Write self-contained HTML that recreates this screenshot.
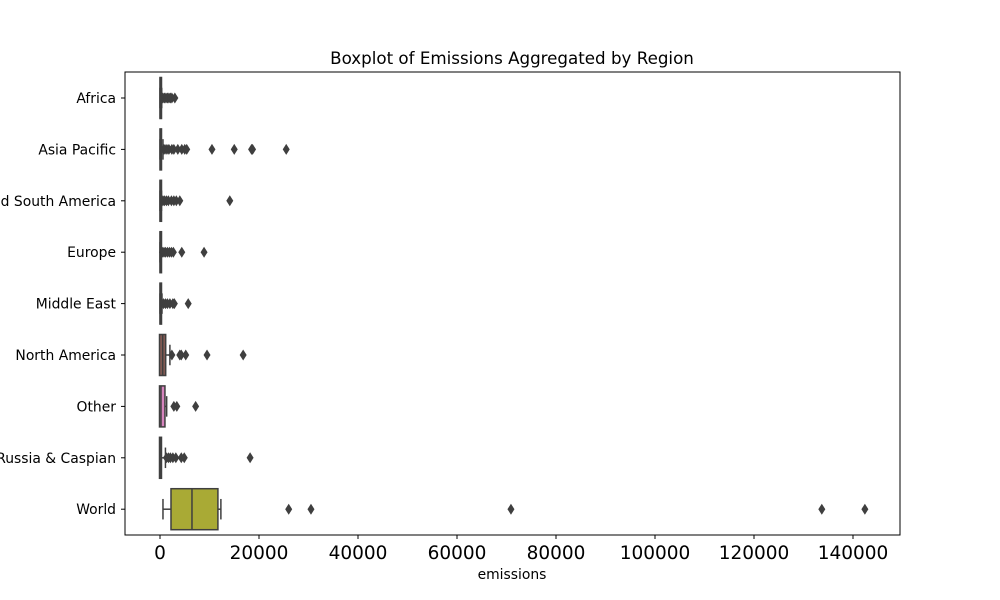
<!DOCTYPE html>
<html><head><meta charset="utf-8"><style>
html,body{margin:0;padding:0;background:#fff;width:1000px;height:600px;overflow:hidden}
svg{display:block;font-family:"DejaVu Sans","Liberation Sans",sans-serif}
</style></head><body>
<svg id="chart" width="1000" height="600" viewBox="0 0 1000 600">
<text x="512" y="64" text-anchor="middle" font-size="16.7" fill="#000">Boxplot of Emissions Aggregated by Region</text>
<g id="plot"></g>
<rect x="125" y="72" width="775" height="463" fill="none" stroke="#000" stroke-width="1"/>
<text x="512" y="579" text-anchor="middle" font-size="13.9" fill="#000">emissions</text>
</svg>
<script>
const categories=["Africa","Asia Pacific","Central and South America","Europe","Middle East","North America","Other","Russia & Caspian","World"];
const colors=["#3274a1","#e1812c","#3a923a","#c03d3e","#9372b2","#845b53","#d684bd","#7f7f7f","#a9aa35"];
const whiskLo=[0,0,0,0,0,0,0,0,600];
const q1=[0,0,0,0,0,-100,-100,-100,2220];
const med=[20,40,20,20,20,540,200,150,6460];
const q3=[120,200,100,80,150,1150,1000,300,11700];
const whiskHi=[350,600,300,250,400,2000,1350,1100,12300];
const outliers=[
 [600,900,1200,1500,1800,2100,2400,3000],
 [700,1000,1400,1800,2400,2800,3600,4400,5000,5400,10500,15000,18500,18700,25500],
 [600,900,1300,1700,2300,2800,3300,4000,14100],
 [500,800,1100,1500,1900,2300,2700,4400,8900],
 [700,1100,1500,2000,2600,2900,5700],
 [2400,4000,4300,5200,9500,16800],
 [2800,3400,7200],
 [1300,1700,2100,2600,3200,4300,4900,18200],
 [26000,30500,70900,133700,142400]
];
const xTicks=[0,20000,40000,60000,80000,100000,120000,140000];
const xs=v=>160+v*0.00495;
const ys=i=>98+i*51.4;
const NS="http://www.w3.org/2000/svg";
const g=document.getElementById('plot');
function mk(t,a,p){const e=document.createElementNS(NS,t);for(const k in a)e.setAttribute(k,a[k]);(p||g).appendChild(e);return e;}
const ec="#3f3f3f";
categories.forEach((c,i)=>{
 const y=ys(i),h=41;
 const grp=mk('g',{});
 
 
 mk('line',{x1:xs(whiskLo[i]),x2:xs(q1[i]),y1:y,y2:y,stroke:ec,'stroke-width':1.5},grp);
 mk('line',{x1:xs(q3[i]),x2:xs(whiskHi[i]),y1:y,y2:y,stroke:ec,'stroke-width':1.5},grp);
 mk('line',{x1:xs(whiskLo[i]),x2:xs(whiskLo[i]),y1:y-h/4,y2:y+h/4,stroke:ec,'stroke-width':1.5},grp);
 mk('line',{x1:xs(whiskHi[i]),x2:xs(whiskHi[i]),y1:y-h/4,y2:y+h/4,stroke:ec,'stroke-width':1.5},grp);
 const w=Math.max(xs(q3[i])-xs(q1[i]),1.5);
 mk('rect',{x:xs(q1[i]),y:y-h/2,width:w,height:h,fill:colors[i],stroke:ec,'stroke-width':1.5},grp);
 mk('line',{x1:xs(med[i]),x2:xs(med[i]),y1:y-h/2,y2:y+h/2,stroke:ec,'stroke-width':1.5},grp);
 outliers[i].forEach(v=>{
  const p=mk('path',{d:`M${xs(v)},${y-5.5} L${xs(v)+3.5},${y} L${xs(v)},${y+5.5} L${xs(v)-3.5},${y} Z`,fill:ec},grp);
  
  
 });
 mk('line',{x1:121,x2:125,y1:y,y2:y,stroke:'#000'});
 const t=mk('text',{x:116,y:y+5,'text-anchor':'end','font-size':13.9,fill:'#000'});
 t.textContent=c;
 
 
});
xTicks.forEach(v=>{
 mk('line',{x1:xs(v),x2:xs(v),y1:535,y2:539,stroke:'#000'});
 const t=mk('text',{x:xs(v),y:559,'text-anchor':'middle','font-size':18.5,fill:'#000'});
 t.textContent=v;
 
 
});
</script>
</body></html>
